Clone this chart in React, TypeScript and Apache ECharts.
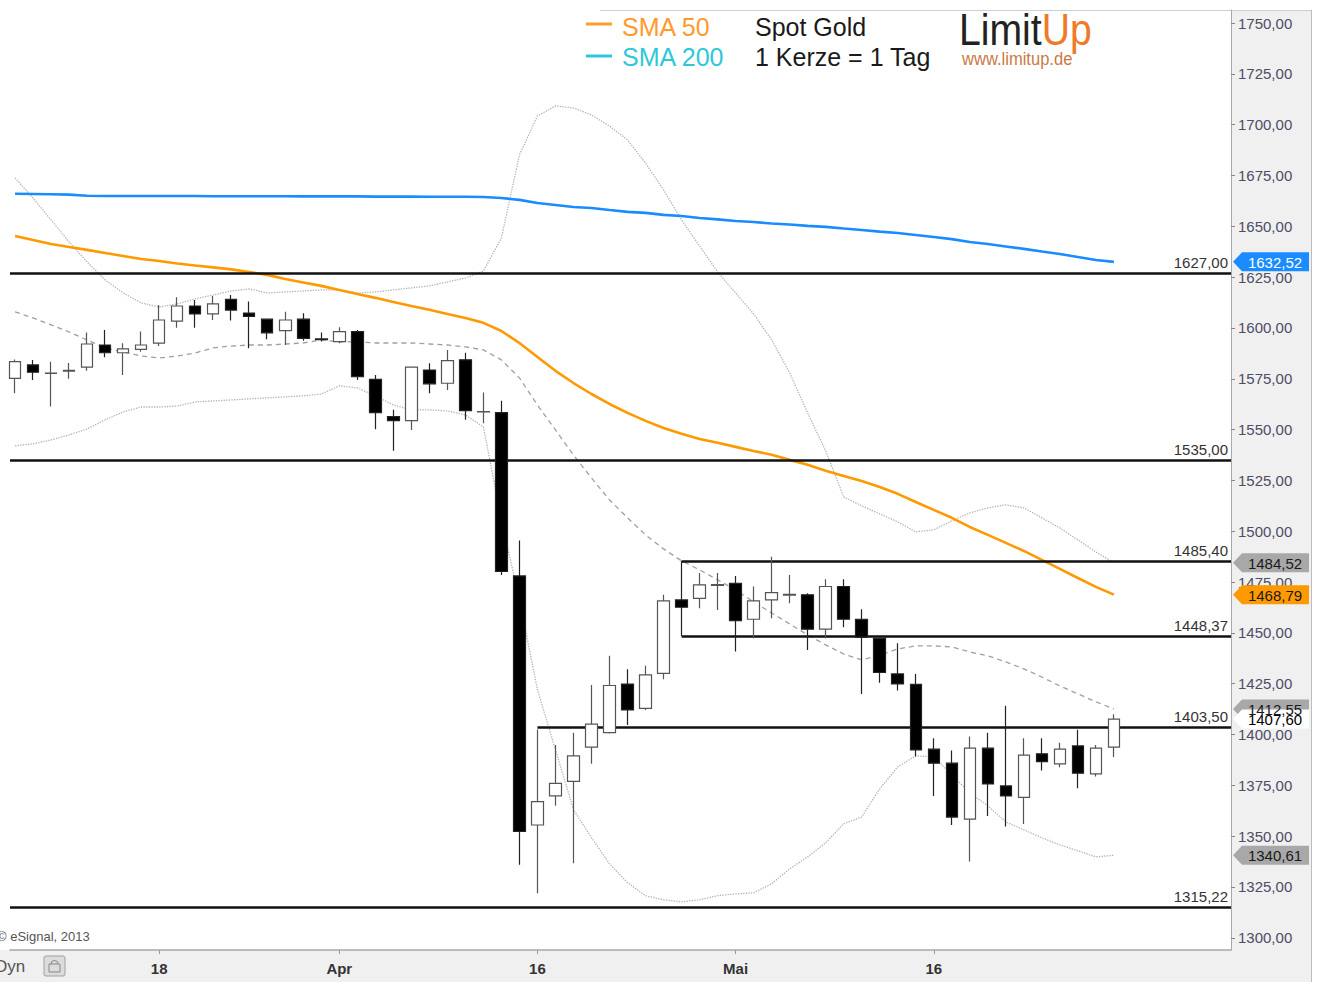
import React, { useEffect, useRef } from 'react';
import * as echarts from 'echarts';

// Daily candles (open, close, low, high), Spot Gold, 6 Mar – 30 May 2013
const ohlc: number[][] = [
  [1575.2, 1583.4, 1567.9, 1584.5],
  [1581.8, 1578.2, 1574.4, 1584.2],
  [1577.6, 1577.8, 1561.3, 1583.4],
  [1578.8, 1579.1, 1575.0, 1582.8],
  [1580.7, 1592.1, 1579.0, 1597.7],
  [1591.6, 1587.8, 1585.6, 1599.0],
  [1587.8, 1589.7, 1576.9, 1592.5],
  [1589.5, 1591.6, 1588.3, 1598.2],
  [1592.5, 1603.9, 1591.1, 1611.3],
  [1603.4, 1610.8, 1600.1, 1615.1],
  [1610.8, 1606.9, 1600.1, 1613.8],
  [1606.9, 1611.8, 1603.9, 1615.7],
  [1614.1, 1608.8, 1603.6, 1616.2],
  [1607.3, 1605.7, 1590.0, 1613.0],
  [1604.3, 1597.6, 1594.4, 1604.6],
  [1598.7, 1603.9, 1591.6, 1608.0],
  [1604.3, 1594.9, 1593.7, 1607.2],
  [1594.6, 1594.2, 1593.3, 1597.7],
  [1593.3, 1598.2, 1592.5, 1600.3],
  [1598.2, 1576.0, 1574.4, 1599.0],
  [1574.7, 1558.3, 1550.2, 1576.9],
  [1556.4, 1554.4, 1539.6, 1559.7],
  [1554.4, 1580.7, 1549.8, 1581.0],
  [1579.3, 1572.5, 1567.9, 1582.6],
  [1572.8, 1583.9, 1569.5, 1589.2],
  [1584.3, 1559.3, 1554.8, 1587.8],
  [1558.7, 1558.9, 1553.1, 1568.2],
  [1558.3, 1480.2, 1478.5, 1564.2],
  [1478.0, 1352.3, 1335.9, 1495.4],
  [1355.5, 1367.0, 1321.9, 1402.5],
  [1369.8, 1376.0, 1364.9, 1394.9],
  [1376.9, 1389.5, 1336.7, 1400.9],
  [1393.8, 1405.1, 1385.6, 1424.4],
  [1400.9, 1424.1, 1400.5, 1438.7],
  [1424.8, 1412.1, 1404.7, 1432.1],
  [1412.9, 1429.3, 1412.1, 1433.8],
  [1430.1, 1465.7, 1427.2, 1468.7],
  [1466.2, 1462.6, 1448.4, 1485.4],
  [1467.0, 1473.6, 1462.1, 1479.4],
  [1473.4, 1473.8, 1461.3, 1479.4],
  [1474.4, 1456.0, 1440.8, 1478.0],
  [1456.7, 1465.7, 1447.4, 1472.8],
  [1466.2, 1469.8, 1457.2, 1487.5],
  [1468.5, 1468.9, 1464.6, 1478.5],
  [1468.7, 1451.8, 1441.6, 1469.5],
  [1451.8, 1472.8, 1447.4, 1476.4],
  [1472.8, 1456.7, 1452.8, 1476.4],
  [1456.7, 1447.9, 1419.9, 1461.6],
  [1447.4, 1430.5, 1425.5, 1447.9],
  [1429.8, 1424.9, 1421.6, 1444.9],
  [1424.7, 1392.4, 1389.2, 1429.8],
  [1392.8, 1385.9, 1369.8, 1398.2],
  [1385.9, 1359.4, 1355.5, 1392.1],
  [1358.4, 1393.3, 1337.5, 1399.0],
  [1393.3, 1375.7, 1359.9, 1400.9],
  [1374.7, 1369.8, 1354.7, 1414.1],
  [1369.1, 1389.9, 1356.0, 1398.2],
  [1390.5, 1386.7, 1382.3, 1398.2],
  [1385.6, 1392.8, 1383.9, 1396.0],
  [1394.4, 1381.0, 1373.6, 1402.3],
  [1380.6, 1393.3, 1379.3, 1394.9],
  [1393.8, 1407.6, 1388.9, 1410.0],
];

const sma50 = [
  1645.2, 1643.3, 1641.3, 1639.8, 1638.4, 1636.9, 1635.4, 1633.9, 1632.9, 1631.7,
  1630.7, 1629.8, 1628.8, 1627.5, 1626.1, 1624.1, 1622.4, 1620.7, 1618.7, 1616.7,
  1614.8, 1612.8, 1610.8, 1608.9, 1606.9, 1604.9, 1602.5, 1598.5, 1592.6, 1585.7,
  1578.9, 1572.9, 1567.5, 1562.6, 1558.2, 1554.3, 1550.8, 1547.9, 1545.4, 1543.5,
  1541.5, 1539.5, 1537.6, 1535.1, 1532.7, 1529.7, 1527.2, 1524.7, 1521.8, 1518.4,
  1514.4, 1510.5, 1506.6, 1502.1, 1498.2, 1494.3, 1490.3, 1485.9, 1481.5, 1477.0,
  1472.6, 1468.79,
];

const sma200 = [
  1666.0, 1665.9, 1665.8, 1665.6, 1665.0, 1664.9, 1664.9, 1664.9, 1664.9, 1664.9,
  1664.9, 1664.8, 1664.8, 1664.8, 1664.8, 1664.8, 1664.7, 1664.7, 1664.7, 1664.7,
  1664.6, 1664.6, 1664.6, 1664.5, 1664.5, 1664.5, 1664.4, 1663.9, 1663.0, 1661.5,
  1660.5, 1659.5, 1659.0, 1658.0, 1657.1, 1656.6, 1655.6, 1655.1, 1654.1, 1653.4,
  1652.6, 1652.1, 1651.4, 1650.9, 1650.2, 1649.7, 1648.9, 1648.2, 1647.4, 1646.7,
  1645.7, 1644.7, 1643.7, 1642.3, 1641.3, 1640.1, 1638.9, 1637.6, 1636.4, 1634.9,
  1633.4, 1632.52,
];

const bbUpper = [
  1673.8, 1663.9, 1653.1, 1642.3, 1632.5, 1623.6, 1617.2, 1612.3, 1610.3, 1611.8,
  1614.3, 1616.2, 1618.2, 1619.2, 1617.2, 1617.7, 1618.2, 1618.7, 1618.7, 1617.2,
  1617.7, 1618.7, 1619.7, 1620.7, 1622.6, 1624.6, 1628.0, 1644.3, 1685.1, 1704.3,
  1709.2, 1708.2, 1704.8, 1699.3, 1692.5, 1681.1, 1667.9, 1653.1, 1640.3, 1627.5,
  1617.2, 1606.9, 1594.1, 1577.9, 1558.2, 1539.5, 1516.9, 1512.5, 1508.5, 1504.6,
  1499.7, 1500.7, 1505.1, 1509.0, 1511.5, 1513.0, 1511.5, 1506.6, 1501.6, 1495.7,
  1489.8, 1484.52,
];

const bbMiddle = [
  1607.9, 1604.9, 1601.5, 1598.0, 1594.1, 1590.2, 1588.2, 1586.2, 1585.2, 1586.2,
  1587.7, 1590.2, 1591.1, 1591.6, 1591.6, 1592.1, 1592.6, 1594.1, 1593.1, 1593.1,
  1592.6, 1592.6, 1592.6, 1592.1, 1591.6, 1590.7, 1589.2, 1584.3, 1575.4, 1562.1,
  1549.8, 1537.5, 1526.2, 1515.4, 1506.6, 1498.2, 1491.3, 1485.4, 1481.0, 1476.1,
  1471.1, 1465.2, 1459.8, 1454.4, 1449.0, 1444.1, 1439.6, 1436.7, 1439.1, 1442.1,
  1443.6, 1443.6, 1443.1, 1440.6, 1438.7, 1435.7, 1432.3, 1428.3, 1423.9, 1420.0,
  1416.1, 1412.55,
];

const bbLower = [
  1542.0, 1543.0, 1544.9, 1547.4, 1550.3, 1554.8, 1558.7, 1561.1, 1561.1, 1561.6,
  1563.6, 1564.1, 1564.6, 1565.1, 1565.6, 1566.1, 1566.6, 1567.5, 1571.5, 1570.5,
  1566.6, 1562.1, 1559.7, 1559.7, 1559.2, 1557.2, 1551.3, 1505.6, 1466.2, 1422.0,
  1392.5, 1363.0, 1349.2, 1336.4, 1327.1, 1320.7, 1318.7, 1317.7, 1318.7, 1320.7,
  1321.6, 1322.1, 1326.6, 1333.9, 1339.8, 1346.7, 1356.1, 1359.5, 1373.3, 1384.1,
  1389.5, 1389.0, 1380.2, 1371.3, 1364.9, 1357.0, 1353.1, 1349.2, 1345.7, 1342.8,
  1339.8, 1340.61,
];

// horizontal support / resistance levels
const levelValues = [1627.0, 1535.0, 1485.4, 1448.37, 1403.5, 1315.22];
const levelStartIdx = [null, null, 37, 37, 29, null];
const levelLabels = ['1627,00', '1535,00', '1485,40', '1448,37', '1403,50', '1315,22'];

// x-axis tick labels (candle index -> label)
const xTickIdx = [8, 18, 29, 40, 51];
const xTickLabels = ['18', 'Apr', '16', 'Mai', '16'];

// y-axis tick values
const yTicks = [1300, 1325, 1350, 1375, 1400, 1425, 1450, 1475, 1500, 1525, 1550, 1575, 1600, 1625, 1650, 1675, 1700, 1725, 1750];

// price tags on the right axis
const tagValues = [1632.52, 1484.52, 1468.79, 1412.55, 1407.6, 1340.61];
const tagLabels = ['1632,52', '1484,52', '1468,79', '1412,55', '1407,60', '1340,61'];

const X_MIN = -0.28;
const X_MAX = 67.5;
const FONT = 'Liberation Sans';

const tagStyles = [
  { fill: '#1a8cff', color: '#ffffff' },
  { fill: '#a8a8a8', color: '#1a1a1a' },
  { fill: '#ff9900', color: '#1a1a1a' },
  { fill: '#a8a8a8', color: '#1a1a1a' },
  { fill: '#ffffff', color: '#000000' },
  { fill: '#a8a8a8', color: '#1a1a1a' },
];

const fmt = (v: number) => v.toFixed(2).replace('.', ',');

export default function App() {
  const ref = useRef<HTMLDivElement>(null);

  useEffect(() => {
    if (!ref.current) return;
    const chart = echarts.init(ref.current, undefined, { renderer: 'svg' });

    const idxSeries = (arr: number[]) => arr.map((v, i) => [i, v]);
    const candleData = ohlc.map((r, i) => [i, r[0], r[1], r[2], r[3]]);

    const staticGraphics: any[] = [
      { type: 'rect', z: -10, shape: { x: 1231, y: 10, width: 80, height: 972 }, style: { fill: '#f0f0f0' }, silent: true },
      { type: 'rect', z: -10, shape: { x: 0, y: 950, width: 1231, height: 32 }, style: { fill: '#f0f0f0' }, silent: true },
      { type: 'line', z: -9, shape: { x1: 1311.5, y1: 10, x2: 1311.5, y2: 982 }, style: { stroke: '#bdbdbd', lineWidth: 1 }, silent: true },
      { type: 'line', z: -9, shape: { x1: 600, y1: 10.5, x2: 1311, y2: 10.5 }, style: { stroke: '#cfcfcf', lineWidth: 1 }, silent: true },
      // legend
      { type: 'line', shape: { x1: 586, y1: 24, x2: 612, y2: 24 }, style: { stroke: '#ff9a2e', lineWidth: 3 } },
      { type: 'text', x: 622, y: 27, style: { text: 'SMA 50', fill: '#ff9a2e', font: `25px ${FONT}`, verticalAlign: 'middle' } },
      { type: 'line', shape: { x1: 586, y1: 56, x2: 612, y2: 56 }, style: { stroke: '#2ec8d8', lineWidth: 3 } },
      { type: 'text', x: 622, y: 57, style: { text: 'SMA 200', fill: '#2ec8d8', font: `25px ${FONT}`, verticalAlign: 'middle' } },
      { type: 'text', x: 755, y: 27, style: { text: 'Spot Gold', fill: '#1a1a1a', font: `25px ${FONT}`, verticalAlign: 'middle' } },
      { type: 'text', x: 755, y: 57, style: { text: '1 Kerze = 1 Tag', fill: '#1a1a1a', font: `25px ${FONT}`, verticalAlign: 'middle' } },
      {
        type: 'text', x: 959, y: 30, scaleX: 0.89,
        style: {
          text: '{a|Limit}{b|Up}', verticalAlign: 'middle',
          rich: {
            a: { fontFamily: FONT, fontSize: 44, fill: '#222222', color: '#222222' },
            b: { fontFamily: FONT, fontSize: 44, fill: '#f07a2a', color: '#f07a2a' },
          },
        },
      },
      { type: 'text', x: 962, y: 59, scaleX: 0.92, style: { text: 'www.limitup.de', fill: '#c87a45', font: `18px ${FONT}`, verticalAlign: 'middle' } },
      // bottom-left texts
      { type: 'text', x: -3, y: 936, style: { text: '© eSignal, 2013', fill: '#555555', font: `13px ${FONT}`, verticalAlign: 'middle' } },
      { type: 'text', x: -5, y: 966, style: { text: 'Dyn', fill: '#555555', font: `17px ${FONT}`, verticalAlign: 'middle' } },
      { type: 'rect', shape: { x: 44, y: 956, width: 21, height: 20, r: 2 }, style: { fill: '#dcdcdc', stroke: '#a0a0a0', lineWidth: 1 } },
      { type: 'rect', shape: { x: 49, y: 964, width: 11, height: 8 }, style: { fill: 'none', stroke: '#888888', lineWidth: 1 } },
      { type: 'arc', shape: { cx: 54.5, cy: 964, r: 3.5, startAngle: Math.PI, endAngle: 2 * Math.PI }, style: { fill: 'none', stroke: '#888888', lineWidth: 1 } },
    ];

    const levelMarkData = levelValues.map((v, i) => [
      { name: levelLabels[i], coord: [levelStartIdx[i] ?? X_MIN, v] },
      { coord: [X_MAX, v] },
    ]);

    const option: any = {
      animation: false,
      backgroundColor: '#ffffff',
      textStyle: { fontFamily: FONT },
      grid: { left: 10, right: 89, top: 10, bottom: 32, containLabel: false },
      xAxis: {
        type: 'value',
        min: X_MIN,
        max: X_MAX,
        splitLine: { show: false },
        axisLine: { show: true, onZero: false, lineStyle: { color: '#a8a8a8', width: 1.5 } },
        axisTick: { show: true, customValues: xTickIdx, length: 4, lineStyle: { color: '#999999' } },
        axisLabel: {
          customValues: xTickIdx,
          formatter: (v: number) => {
            const k = xTickIdx.indexOf(Math.round(v));
            return k >= 0 ? xTickLabels[k] : '';
          },
          color: '#333333',
          fontWeight: 'bold',
          fontSize: 15,
          fontFamily: FONT,
          margin: 11,
        },
      },
      yAxis: {
        type: 'value',
        position: 'right',
        min: 1294,
        max: 1756.4,
        splitLine: { show: false },
        axisLine: { show: true, onZero: false, lineStyle: { color: '#a8a8a8', width: 1 } },
        axisTick: { show: true, customValues: yTicks, length: 4, lineStyle: { color: '#888888' } },
        axisLabel: {
          customValues: yTicks,
          formatter: (v: number) => fmt(v),
          color: '#4d4d66',
          fontSize: 15,
          fontFamily: FONT,
          margin: 7,
        },
      },
      series: [
        {
          name: 'BB upper', type: 'line', data: idxSeries(bbUpper), symbol: 'none', z: 2, silent: true,
          lineStyle: { color: '#b0b0b0', width: 1.3, type: 'dotted' },
        },
        {
          name: 'BB lower', type: 'line', data: idxSeries(bbLower), symbol: 'none', z: 2, silent: true,
          lineStyle: { color: '#b0b0b0', width: 1.3, type: 'dotted' },
        },
        {
          name: 'BB middle', type: 'line', data: idxSeries(bbMiddle), symbol: 'none', z: 2, silent: true,
          lineStyle: { color: '#a0a0a0', width: 1.3, type: [5, 4] },
        },
        {
          name: 'SMA 200', type: 'line', data: idxSeries(sma200), symbol: 'none', z: 3, silent: true,
          lineStyle: { color: '#1a8cff', width: 2.6 },
        },
        {
          name: 'SMA 50', type: 'line', data: idxSeries(sma50), symbol: 'none', z: 3, silent: true,
          lineStyle: { color: '#ff9900', width: 2.6 },
        },
        {
          name: 'Levels', type: 'line', data: [], symbol: 'none', z: 4, silent: true,
          markLine: {
            silent: true,
            symbol: ['none', 'none'],
            animation: false,
            lineStyle: { color: '#111111', width: 2.5, type: 'solid' },
            label: {
              show: true,
              position: 'insideEndTop',
              formatter: '{b}',
              color: '#333333',
              fontSize: 15,
              fontFamily: FONT,
              distance: 3,
            },
            emphasis: { disabled: true },
            data: levelMarkData,
          },
        },
        {
          name: 'Spot Gold', type: 'candlestick', data: candleData, z: 5, silent: true,
          barWidth: 12,
          itemStyle: {
            color: '#ffffff',
            color0: '#000000',
            borderColor: '#555555',
            borderColor0: '#222222',
            borderWidth: 1.2,
          },
        },
      ],
      graphic: staticGraphics,
    };

    chart.setOption(option);

    const tagGraphics = tagValues.map((v, i) => {
      const y = chart.convertToPixel({ yAxisIndex: 0 }, v) as number;
      const st = tagStyles[i];
      return {
        type: 'group',
        z: 50,
        children: [
          {
            type: 'polygon', z: 50,
            shape: { points: [[1233, y], [1242, y - 9.5], [1309, y - 9.5], [1309, y + 9.5], [1242, y + 9.5]] },
            style: { fill: st.fill },
          },
          {
            type: 'text', z: 51, x: 1275, y: y + 0.5,
            style: { text: tagLabels[i], fill: st.color, font: `15px ${FONT}`, align: 'center', verticalAlign: 'middle' },
          },
        ],
      };
    });

    chart.setOption({ graphic: [...staticGraphics, ...tagGraphics] });

    return () => chart.dispose();
  }, []);

  return (
    <div
      ref={ref}
      style={{ position: 'fixed', left: 0, top: 0, width: 1320, height: 982, background: '#fff' }}
    />
  );
}
